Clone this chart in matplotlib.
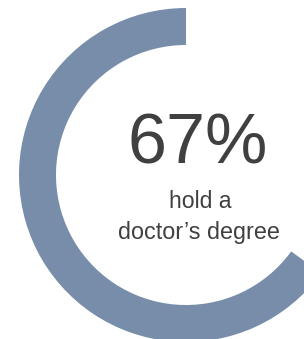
import matplotlib
matplotlib.use("Agg")
import matplotlib.pyplot as plt

# data
share_values = [65, 35]          # drawn arc (as read from the ring), remaining part
big_label = "67%"
sub_lines = ["hold a", "doctor\u2019s degree"]

ring_color = "#778DAA"
text_color = "#404040"

W, H, DPI = 304, 339, 100
fig = plt.figure(figsize=(W / DPI, H / DPI), dpi=DPI)
ax = fig.add_axes([0, 0, 1, 1])
ax.axis("off")

ax.pie(share_values, colors=[ring_color, "none"], startangle=90, counterclock=True,
       radius=167, center=(186, H - 175),
       wedgeprops=dict(width=37, linewidth=0))
ax.set_xlim(0, W)
ax.set_ylim(0, H)
ax.set_aspect("equal")

ax.text(197.5, H - 163, big_label, ha="center", va="baseline",
        fontsize=50.5, color=text_color, family="Liberation Sans")
ax.text(200, H - 208, sub_lines[0], ha="center", va="baseline",
        fontsize=16.6, color=text_color, family="Liberation Sans")
ax.text(198.5, H - 239.5, sub_lines[1], ha="center", va="baseline",
        fontsize=16.8, color=text_color, family="Liberation Sans")

fig.savefig("out.png", dpi=DPI)
